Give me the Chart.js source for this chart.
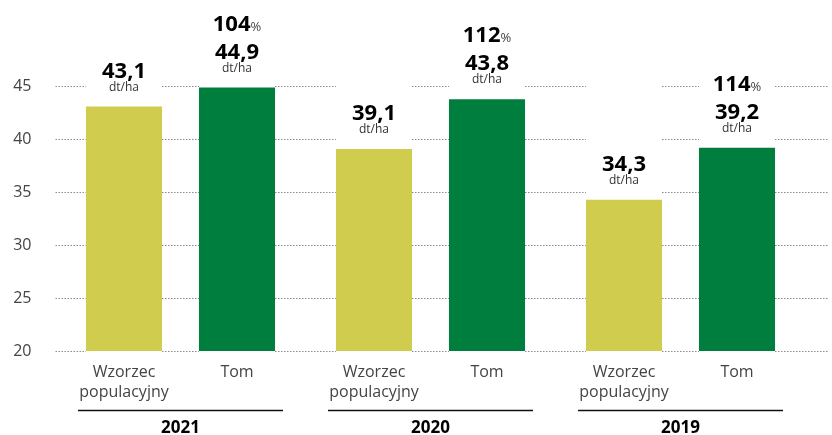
<!DOCTYPE html>
<html>
<head>
<meta charset="utf-8">
<title>Plon - Tom</title>
<script src="https://cdn.jsdelivr.net/npm/chart.js@4"></script>
<style>
    body { margin: 0; background: #fff; }
    #wrap { width: 832px; height: 435px; }
</style>
</head>
<body>
<div id="wrap"><canvas id="barChart"></canvas></div>
<script>
// Data
const years = ['2021', '2020', '2019'];
const seriesNames = ['Wzorzec populacyjny', 'Tom'];
const wzorzecValues = [43.1, 39.1, 34.3];
const tomValues = [44.9, 43.8, 39.2];
const tomPercent = [104, 112, 114];
const unitLabel = 'dt/ha';
const yTicks = [20, 25, 30, 35, 40, 45];

const FONT = '"Open Sans", "DejaVu Sans", sans-serif';

function fmt(v) {
    return v.toFixed(1).replace('.', ',');
}

// Dotted gridlines, interrupted over the bar columns
const gridPlugin = {
    id: 'dottedGrid',
    beforeDatasetsDraw(chart) {
        const ctx = chart.ctx;
        const y = chart.scales.y;
        const gaps = [];
        chart.data.datasets.forEach((ds, i) => {
            chart.getDatasetMeta(i).data.forEach(bar => {
                gaps.push([bar.x - bar.width / 2, bar.x + bar.width / 2]);
            });
        });
        gaps.sort((a, b) => a[0] - b[0]);
        ctx.save();
        ctx.strokeStyle = '#8a8a8a';
        ctx.lineWidth = 1;
        ctx.setLineDash([1.5, 1.5]);
        yTicks.forEach(v => {
            const py = Math.round(y.getPixelForValue(v)) + 0.5;
            let start = chart.chartArea.left;
            const end = 829;
            ctx.beginPath();
            gaps.forEach(g => {
                ctx.moveTo(start, py);
                ctx.lineTo(g[0], py);
                start = g[1];
            });
            ctx.moveTo(start, py);
            ctx.lineTo(end, py);
            ctx.stroke();
        });
        ctx.restore();
    }
};

// Value labels above bars, category labels and year groups below
const labelPlugin = {
    id: 'barLabels',
    afterDatasetsDraw(chart) {
        const ctx = chart.ctx;
        ctx.save();
        ctx.textAlign = 'center';
        ctx.textBaseline = 'alphabetic';

        chart.data.datasets.forEach((ds, di) => {
            chart.getDatasetMeta(di).data.forEach((bar, i) => {
                const x = bar.x;
                const top = bar.y;
                ctx.fillStyle = '#000';
                ctx.font = 'bold 22px ' + FONT;
                ctx.fillText(fmt(ds.data[i]), x, top - 29);
                ctx.fillStyle = '#333';
                ctx.font = '12px ' + FONT;
                ctx.fillText(unitLabel, x, top - 16);

                if (di === 1) {
                    const num = String(tomPercent[i]);
                    ctx.font = 'bold 22px ' + FONT;
                    const w1 = ctx.measureText(num).width;
                    ctx.font = '13px ' + FONT;
                    const w2 = ctx.measureText('%').width;
                    const left = x - (w1 + w2) / 2;
                    ctx.textAlign = 'left';
                    ctx.fillStyle = '#000';
                    ctx.font = 'bold 22px ' + FONT;
                    ctx.fillText(num, left, top - 57);
                    ctx.fillStyle = '#444';
                    ctx.font = '13px ' + FONT;
                    ctx.fillText('%', left + w1, top - 57);
                    ctx.textAlign = 'center';
                }

                // category label under the bar
                ctx.fillStyle = '#444';
                ctx.font = '16px ' + FONT;
                const words = seriesNames[di].split(' ');
                words.forEach((wd, k) => {
                    ctx.fillText(wd, x, 377 + k * 20);
                });
            });
        });

        // year group underline and label
        const m0 = chart.getDatasetMeta(0).data;
        const m1 = chart.getDatasetMeta(1).data;
        years.forEach((yr, i) => {
            const l = m0[i].x - m0[i].width / 2 - 8;
            const r = m1[i].x + m1[i].width / 2 + 8;
            ctx.strokeStyle = '#111';
            ctx.lineWidth = 1.5;
            ctx.setLineDash([]);
            ctx.beginPath();
            ctx.moveTo(l, 410.5);
            ctx.lineTo(r, 410.5);
            ctx.stroke();
            ctx.fillStyle = '#000';
            ctx.font = 'bold 17px ' + FONT;
            ctx.fillText(yr, (l + r) / 2, 433);
        });
        ctx.restore();
    }
};

const ctx = document.getElementById('barChart').getContext('2d');
new Chart(ctx, {
    type: 'bar',
    data: {
        labels: years,
        datasets: [{
            label: seriesNames[0],
            data: wzorzecValues,
            backgroundColor: '#d0cd4e',
            borderWidth: 0,
            categoryPercentage: 0.904,
            barPercentage: 0.673
        }, {
            label: seriesNames[1],
            data: tomValues,
            backgroundColor: '#007e3e',
            borderWidth: 0,
            categoryPercentage: 0.904,
            barPercentage: 0.673
        }]
    },
    options: {
        responsive: true,
        maintainAspectRatio: false,
        animation: false,
        layout: {
            padding: { top: 33, bottom: 84, right: 26.5, left: 0 }
        },
        plugins: {
            legend: { display: false },
            tooltip: { enabled: false }
        },
        scales: {
            x: {
                display: false
            },
            y: {
                min: 20,
                max: 50,
                afterFit(scale) { scale.width = 55.5; },
                grid: { display: false, drawTicks: false },
                border: { display: false },
                ticks: {
                    stepSize: 5,
                    padding: 24,
                    color: '#444',
                    font: { family: FONT, size: 16 },
                    callback: v => (yTicks.includes(v) ? v : '')
                }
            }
        }
    },
    plugins: [gridPlugin, labelPlugin]
});
</script>
</body>
</html>
